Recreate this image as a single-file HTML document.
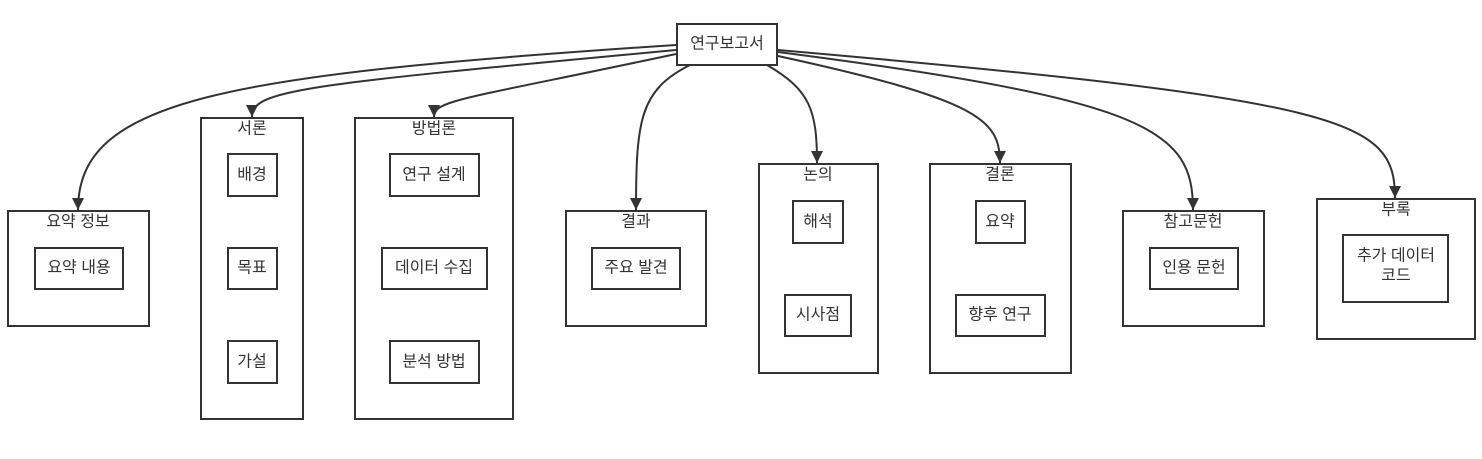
<!DOCTYPE html>
<html><head><meta charset="utf-8"><style>
html,body{margin:0;padding:0;background:#fff;}
svg text{font-family:"Liberation Sans","Noto Sans CJK KR",sans-serif;font-size:16px;fill:#333;text-anchor:middle;dominant-baseline:central;}
</style></head><body>
<svg width="1482" height="454" viewBox="0 0 1482 454" xmlns="http://www.w3.org/2000/svg">
<defs><marker id="a" markerWidth="14" markerHeight="14" refX="12" refY="6" orient="auto" markerUnits="userSpaceOnUse"><path d="M0,0 L12,6 L0,12 z" fill="#333"/></marker></defs>
<g fill="none" stroke="#333" stroke-width="2">
<path d="M676,45 C220,75 78,100 78,210" marker-end="url(#a)"/>
<path d="M676,50 C300,85 252,90 252,117" marker-end="url(#a)"/>
<path d="M676,54 C460,100 434,100 434,117" marker-end="url(#a)"/>
<path d="M690,65 C640,90 636,120 636,210" marker-end="url(#a)"/>
<path d="M767,65 C810,90 817,110 817,163" marker-end="url(#a)"/>
<path d="M778,56 C980,100 1000,120 1000,163" marker-end="url(#a)"/>
<path d="M778,52 C1150,100 1193,130 1193,210" marker-end="url(#a)"/>
<path d="M778,50 C1350,100 1395,120 1395,198" marker-end="url(#a)"/>
<rect x="677" y="24" width="100" height="41"/>
<rect x="8" y="211" width="141" height="115"/><rect x="35" y="248" width="88" height="41"/>
<rect x="201" y="118" width="102" height="301"/>
<rect x="228" y="154" width="49" height="42"/><rect x="228" y="248" width="49" height="41"/><rect x="228" y="341" width="49" height="42"/>
<rect x="355" y="118" width="158" height="301"/>
<rect x="390" y="154" width="89" height="42"/><rect x="382" y="248" width="105" height="41"/><rect x="390" y="341" width="89" height="42"/>
<rect x="566" y="211" width="140" height="115"/><rect x="592" y="248" width="88" height="41"/>
<rect x="759" y="164" width="119" height="209"/>
<rect x="793" y="201" width="50" height="42"/><rect x="785" y="295" width="66" height="41"/>
<rect x="930" y="164" width="141" height="209"/>
<rect x="976" y="201" width="49" height="42"/><rect x="956" y="295" width="89" height="41"/>
<rect x="1123" y="211" width="141" height="115"/><rect x="1150" y="248" width="88" height="41"/>
<rect x="1317" y="199" width="158" height="140"/><rect x="1343" y="235" width="105" height="67"/>
</g>
<text x="727" y="44">연구보고서</text>
<text x="78" y="222">요약 정보</text><text x="79" y="268">요약 내용</text>
<text x="252" y="129">서론</text><text x="252" y="175">배경</text><text x="252" y="268">목표</text><text x="252" y="362">가설</text>
<text x="434" y="129">방법론</text><text x="434" y="175">연구 설계</text><text x="434" y="268">데이터 수집</text><text x="434" y="362">분석 방법</text>
<text x="636" y="222">결과</text><text x="636" y="268">주요 발견</text>
<text x="818" y="175">논의</text><text x="818" y="222">해석</text><text x="818" y="315">시사점</text>
<text x="1000" y="175">결론</text><text x="1000" y="222">요약</text><text x="1000" y="315">향후 연구</text>
<text x="1193" y="222">참고문헌</text><text x="1194" y="268">인용 문헌</text>
<text x="1396" y="210">부록</text><text x="1396" y="256">추가 데이터</text><text x="1396" y="276">코드</text>
</svg>
</body></html>
